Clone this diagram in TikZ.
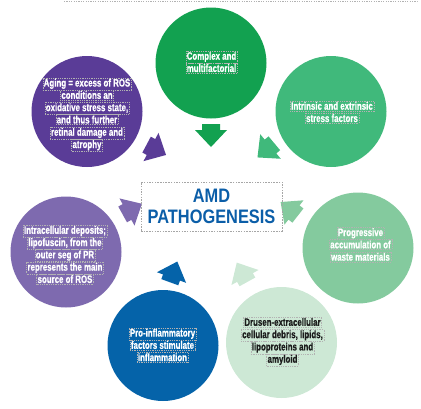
\documentclass[tikz,border=0pt]{standalone}
\usepackage{fontspec}
\setmainfont{Liberation Sans}
\newfontfamily\condtxt{Liberation Sans Bold}[FakeStretch=0.73, FakeBold=0.7]
\newfontfamily\condttl{Liberation Sans Bold}[FakeStretch=0.84]
\definecolor{cgreenA}{HTML}{12A150}
\definecolor{cgreenB}{HTML}{40B97B}
\definecolor{cgreenC}{HTML}{84CA9E}
\definecolor{cgreenD}{HTML}{CDE8D5}
\definecolor{cblue}{HTML}{0563A9}
\definecolor{cpurpA}{HTML}{5A3C97}
\definecolor{cpurpB}{HTML}{7E6AAF}
\definecolor{ctitle}{HTML}{0B5EA8}
\definecolor{cdark}{HTML}{1C1C1C}
\newcommand\bubfont{\condtxt\fontsize{10.8pt}{12.3pt}\selectfont\lineskiplimit=-20pt\relax}
\tikzset{
  bubble/.style={circle, minimum size=111pt, inner sep=0pt, draw=none},
  bubtext/.style={align=center, inner sep=0pt, font=\bubfont},
  dlframe/.style={draw=gray!60, dash pattern=on 0.9pt off 0.9pt, line width=0.35pt, inner sep=1pt, font=\bubfont}
}
\newcommand\dlbox[1]{\tikz[baseline=(dlb.base)]\node[dlframe](dlb){#1};}
\begin{document}
\begin{tikzpicture}[x=1pt,y=-1pt]
\useasboundingbox (0,0) rectangle (421,408);
% top dashed line
\draw[gray!60, dash pattern=on 1.2pt off 1.2pt, line width=0.5pt] (64,1.5) -- (417,1.5) -- (417,0);
% arrows
\fill[cgreenA, shift={(211,130)}, rotate=-90] (17,0) -- (0,16) -- (0,9) -- (-6,9) -- (-6,-9) -- (0,-9) -- (0,-16) -- cycle;
\fill[cpurpA, shift={(151,147)}, rotate=-28] (17,0) -- (0,16) -- (0,9) -- (-5,9) -- (-5,-9) -- (0,-9) -- (0,-16) -- cycle;
\fill[cgreenB, shift={(270.5,146.5)}, rotate=-140] (17,0) -- (0,16) -- (0,9) -- (-5,9) -- (-5,-9) -- (0,-9) -- (0,-16) -- cycle;
\fill[cpurpB, shift={(127,212)}, rotate=29] (17,0) -- (0,15.5) -- (0,9) -- (-5,9) -- (-5,-9) -- (0,-9) -- (0,-15.5) -- cycle;
\fill[cgreenC, shift={(294,212.5)}, rotate=142] (17,0) -- (0,15.5) -- (0,9) -- (-5,9) -- (-5,-9) -- (0,-9) -- (0,-15.5) -- cycle;
\fill[cblue, shift={(171.5,277.5)}, rotate=70] (17,0) -- (0,15.5) -- (0,9) -- (-5,9) -- (-5,-9) -- (0,-9) -- (0,-15.5) -- cycle;
\fill[cgreenD, shift={(245,277.5)}, rotate=119] (17,0) -- (0,15.5) -- (0,9) -- (-5,9) -- (-5,-9) -- (0,-9) -- (0,-15.5) -- cycle;
% circles
\node[bubble, fill=cgreenA] (c1) at (211,63) {};
\node[bubble, fill=cgreenB] (c2) at (331,111.5) {};
\node[bubble, fill=cpurpA] (c3) at (87,111.5) {};
\node[bubble, fill=cpurpB] (c4) at (66,252) {};
\node[bubble, fill=cgreenC] (c5) at (358,248) {};
\node[bubble, fill=cblue] (c6) at (163,345.5) {};
\node[bubble, fill=cgreenD] (c7) at (281.5,342.5) {};
% texts
\node[bubtext, text=white] (t1) at (211.5,62) {\dlbox{Complex and}\\\dlbox{multifactorial}};
\node[bubtext, text=white] (t2) at (332,112) {\dlbox{Intrinsic and extrinsic}\\\dlbox{stress factors}};
\node[bubtext, text=white] (t3) at (87,114.5) {\dlbox{Aging = excess of ROS}\\\dlbox{conditions an}\\\dlbox{oxidative stress state,}\\\dlbox{and thus further}\\\dlbox{retinal damage and}\\\dlbox{atrophy}};
\node[bubtext, text=white] (t4) at (65,254.5) {\dlbox{Intracellular deposits;}\\\dlbox{lipofuscin, from the}\\\dlbox{outer seg of PR}\\\dlbox{represents the main}\\\dlbox{source of ROS}};
\node[bubtext, text=white] (t5) at (360.5,244.5) {\dlbox{Progressive}\\\dlbox{accumulation of}\\\dlbox{waste materials}};
\node[bubtext, text=white] (t6) at (162.5,345) {\dlbox{Pro-inflammatory}\\\dlbox{factors stimulate}\\\dlbox{inflammation}};
\node[bubtext, text=cdark] (t7) at (282.5,341.5) {\dlbox{Drusen-extracellular}\\\dlbox{cellular debris, lipids,}\\\dlbox{lipoproteins and}\\\dlbox{amyloid}};
% center
\node[draw=gray!70, dash pattern=on 1.5pt off 1.2pt, line width=0.5pt, minimum width=141pt, minimum height=49pt, inner sep=0pt] (box) at (211.5,206.5) {};
\node[align=center, text=ctitle, inner sep=0pt, font=\condttl\fontsize{19.5pt}{21pt}\selectfont] (title) at (211.5,206.5) {AMD\\PATHOGENESIS};
\end{tikzpicture}
\end{document}
